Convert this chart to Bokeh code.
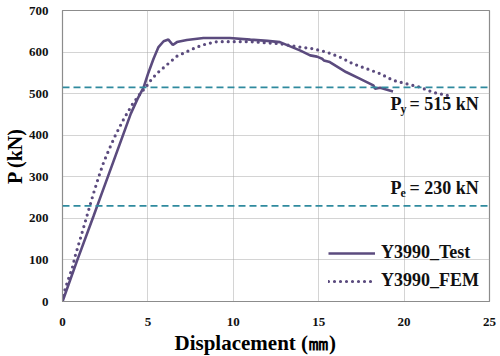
from bokeh.plotting import figure
from bokeh.models import Range1d, Span, Legend, LegendItem, FixedTicker, ColumnDataSource, Title
from bokeh.core.properties import value
from bokeh.embed import file_html
from bokeh.resources import INLINE

# Test curve
test_disp = [0, 0.86, 1.83, 2.22, 3.0, 4.0, 4.4, 4.75, 5.0, 5.33, 5.62, 5.92, 6.2, 6.46, 6.7, 7.28,
             8.25, 9.8, 11.0, 12.0, 12.73, 13.9, 14.5, 14.9, 15.2, 15.3, 15.65, 16.6, 17.4, 18.2,
             18.3, 18.6, 19.35]
test_load = [0, 99, 207, 251, 339, 452, 488, 515, 547, 584, 612, 626, 630, 617, 624, 629,
             634, 634, 630, 627, 624, 604, 592, 589, 584, 580, 576, 552, 536, 520,
             512, 514, 505]

# FEM curve
fem_disp = [0, 0.08, 0.31, 0.57, 0.76, 1.05, 1.34, 1.6, 1.83, 2.12, 2.41, 2.75, 3.1, 3.6, 4.1, 4.55,
            4.85, 5.24, 5.62, 6.1, 6.7, 7.28, 7.87, 8.45, 9.04, 10.0, 11.0, 12.73, 13.9, 14.66,
            15.46, 16.24, 17.0, 17.8, 18.6, 19.35, 20.1, 20.9, 21.7, 22.5, 22.8]
fem_load = [0, 20, 50, 80, 112, 152, 193, 230, 262, 300, 335, 368, 400, 440, 475, 500,
            514, 536, 552, 569, 590, 601, 612, 620, 625, 625, 625, 620, 612, 608,
            600, 588, 572, 560, 548, 532, 524, 516, 503, 496, 492]

py_val = 515
pe_val = 230
x_ticks = [0, 5, 10, 15, 20, 25]
y_ticks = [0, 100, 200, 300, 400, 500, 600, 700]

FONT = "Liberation Serif"
PURPLE = "#5b4b7e"
TEAL = "#2f8a9e"

p = figure(width=500, height=356, output_backend="svg", toolbar_location=None,
           x_range=Range1d(0, 25), y_range=Range1d(0, 700),
           min_border_left=62, min_border_right=11, min_border_top=10, min_border_bottom=55)
p.background_fill_color = "white"
p.border_fill_color = "white"
p.outline_line_color = "#8c8c8c"
p.outline_line_width = 1.2

for ax in (p.xaxis[0], p.yaxis[0]):
    ax.major_label_text_font = FONT
    ax.major_label_text_font_style = "bold"
    ax.major_label_text_font_size = "13px"
    ax.major_label_text_color = "#111111"
    ax.axis_line_color = "#8c8c8c"
    ax.major_tick_line_color = None
    ax.minor_tick_line_color = None
    ax.axis_label_text_font = FONT
    ax.axis_label_text_font_style = "bold"
    ax.axis_label_text_color = "#000000"

p.xaxis.ticker = FixedTicker(ticks=x_ticks)
p.yaxis.ticker = FixedTicker(ticks=y_ticks)
p.xaxis.major_label_standoff = 10
p.yaxis.major_label_standoff = 8
p.yaxis.axis_label = "P (kN)"
p.yaxis.axis_label_text_font_size = "20px"
p.yaxis.axis_label_standoff = 0

xt = Title(text="Displacement (㎜)", align="left", offset=112, standoff=0,
           text_font=FONT, text_font_style="bold", text_font_size="21px", text_color="#000000")
p.add_layout(xt, "below")

p.xgrid.grid_line_color = "#a8a8a8"
p.ygrid.grid_line_color = "#a8a8a8"
p.xgrid.grid_line_dash = "1 1"
p.ygrid.grid_line_dash = "1 1"
p.xgrid.grid_line_width = 1
p.ygrid.grid_line_width = 1

p.add_layout(Span(location=py_val, dimension="width", line_color=TEAL, line_width=1.8, line_dash="7 4"))
p.add_layout(Span(location=pe_val, dimension="width", line_color=TEAL, line_width=1.8, line_dash="7 4"))

r_test = p.line(test_disp, test_load, line_color=PURPLE, line_width=2.6)
r_fem = p.line(fem_disp, fem_load, line_color=PURPLE, line_width=3.2, line_dash="0 6", line_cap="round")

# annotations
ann_x = [19.2, 19.2]
ann_y = [474, 274]
ann_main = ["P", "P"]
ann_sub = ["y", "e"]
ann_rest = ["= 515 kN", "= 230 kN"]
src = ColumnDataSource(dict(x=ann_x, y=ann_y, main=ann_main, sub=ann_sub, rest=ann_rest))
p.text(x="x", y="y", text="main", source=src, text_font=value(FONT), text_font_style="bold",
       text_font_size="18px", text_baseline="alphabetic", text_color="#111111")
p.text(x="x", y="y", text="sub", source=src, text_font=value(FONT), text_font_style="bold",
       text_font_size="12px", text_baseline="alphabetic", x_offset=10, y_offset=5, text_color="#111111")
p.text(x="x", y="y", text="rest", source=src, text_font=value(FONT), text_font_style="bold",
       text_font_size="18px", text_baseline="alphabetic", x_offset=19, text_color="#111111")

legend = Legend(items=[LegendItem(label="Y3990_Test", renderers=[r_test]),
                       LegendItem(label="Y3990_FEM", renderers=[r_fem])],
                location="bottom_right")
legend.label_text_font = FONT
legend.label_text_font_style = "bold"
legend.label_text_font_size = "18px"
legend.label_text_color = "#111111"
legend.glyph_width = 47
legend.label_standoff = 6
legend.spacing = 7
legend.padding = 0
legend.margin = 10
legend.border_line_color = None
legend.background_fill_alpha = 0
p.add_layout(legend)

open("out.html", "w").write(file_html(p, INLINE))
